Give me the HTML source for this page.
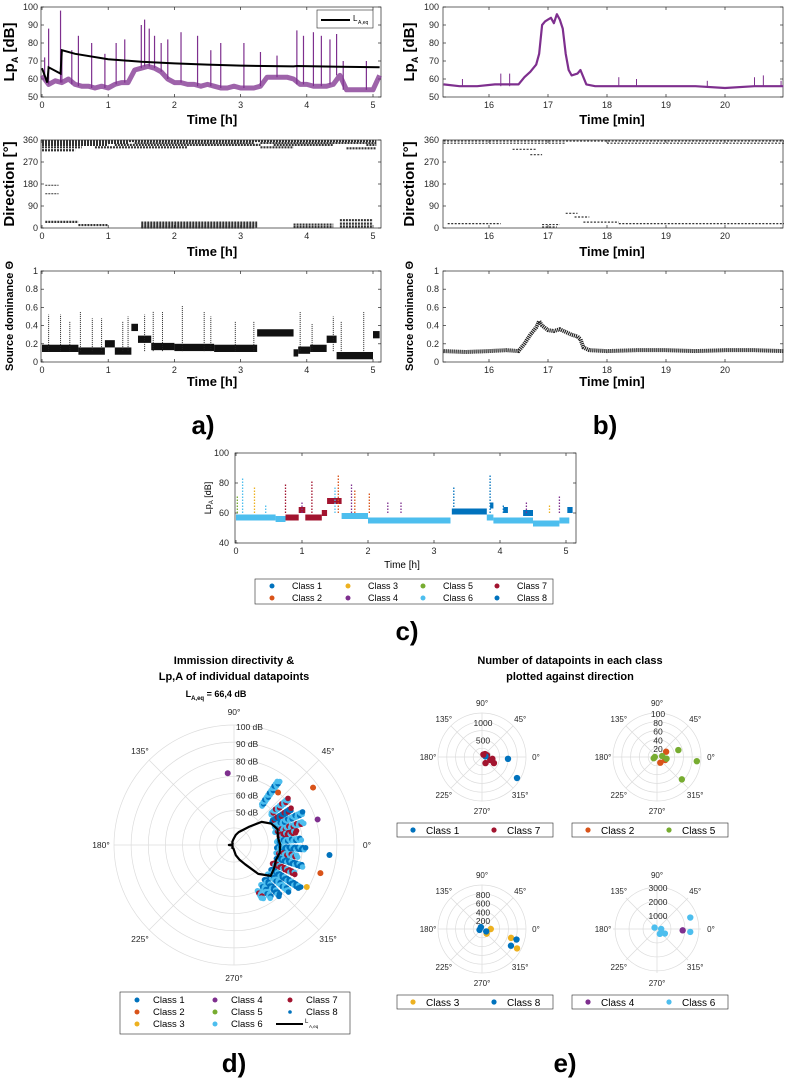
<!DOCTYPE html>
<html><head><meta charset="utf-8"><style>
html,body{margin:0;padding:0;background:#fff;}
svg{display:block;font-family:"Liberation Sans",Arial,sans-serif;}
</style></head><body>
<svg id="fig" width="789" height="1078" viewBox="0 0 789 1078" xmlns="http://www.w3.org/2000/svg"></svg>
<script>
// ---------- DATA ----------
const aLp = [62,57,59,58,60,57,56,56,55,56,55,57,58,58,65,66,67,66,64,60,58,58,57,57,56,57,56,55,55,56,55,55,55,56,61,61,61,61,60,57,57,56,56,56,57,62,54,54,54,54,54,62];
const aSpikeT = [0.04,0.1,0.28,0.3,0.45,0.55,0.75,0.95,1.12,1.25,1.5,1.55,1.62,1.7,1.8,1.9,2.1,2.35,2.55,2.7,3.05,3.3,3.55,3.85,3.95,4.1,4.22,4.35,4.45,4.55,4.9];
const aSpikeV = [72,88,98,75,76,84,80,74,80,82,90,93,88,84,80,82,86,84,76,80,80,75,73,87,84,86,84,82,85,70,70];
const aLeqT = [0,0.08,0.1,0.28,0.3,0.5,1,1.5,2,2.5,3,3.8,3.85,4.5,5.1];
const aLeqV = [66,58,66.5,63,76,74,71,69.6,68.7,68,67.4,67,67.2,66.8,66.5];
const bT = [15.23,15.5,15.8,16.1,16.3,16.5,16.6,16.7,16.8,16.85,16.9,16.95,17.0,17.05,17.1,17.15,17.2,17.25,17.3,17.35,17.4,17.5,17.55,17.65,17.8,18.0,18.5,19,19.5,20,20.5,20.99];
const bV = [57,56,56,57,57,57,61,64,68,74,90,92,93,94,91,96,93,88,74,65,62,63,65,57,56,56,56,56,56,55,56,56];
const bSpikeT = [15.55,16.2,16.35,18.2,18.5,19.7,20.5,20.65,20.95];
const bSpikeV = [60,63,63,61,60,59,61,62,59];
const dirARows = [[0,5.05,356],[0,1.3,348],[1.4,3.2,348],[3.3,5.05,348],[0,1.0,340],[1.1,3.3,340],[3.5,4.4,340],[4.9,5.05,340],[0,0.6,330],[0.8,2.2,330],[3.3,3.8,330],[4.6,5.05,326],[0,0.5,318],[0.05,0.55,25],[0.55,1.0,12],[1.5,3.25,22],[1.5,3.25,14],[1.5,3.25,6],[1.5,3.2,2],[3.8,4.4,14],[3.8,4.4,4],[4.5,5.0,18],[4.5,5.0,6],[4.5,5.0,32],[0.05,0.25,140],[0.05,0.25,175]];
const dirBRows = [[15.23,21,356],[15.23,17.3,347],[18.0,21,347],[16.4,16.8,322],[16.7,16.9,300],[17.3,17.5,60],[17.45,17.7,45],[17.6,18.2,24],[18.2,21,18],[16.9,17.15,4],[16.9,17.2,14],[15.3,16.2,18]];
const domSegT0 = [0,0.55,0.95,1.1,1.35,1.45,1.65,2.0,2.6,3.25,3.8,3.87,4.05,4.3,4.45,5.0];
const domSegT1 = [0.55,0.95,1.1,1.35,1.45,1.65,2.0,2.6,3.25,3.8,3.87,4.05,4.3,4.45,5.0,5.1];
const domSegV = [0.15,0.12,0.2,0.12,0.38,0.25,0.17,0.16,0.15,0.32,0.1,0.13,0.15,0.25,0.07,0.3];
const domSpikeT = [0.1,0.28,0.42,0.58,0.76,0.9,1.22,1.3,1.55,1.68,1.82,2.12,2.45,2.55,2.92,3.2,3.9,4.08,4.4,4.52,4.86];
const domSpikeV = [0.52,0.52,0.45,0.55,0.48,0.48,0.45,0.5,0.52,0.56,0.55,0.62,0.55,0.5,0.45,0.45,0.55,0.42,0.5,0.45,0.55];
const bDomT = [15.23,15.6,16,16.3,16.5,16.6,16.7,16.8,16.85,16.9,17.0,17.1,17.2,17.3,17.4,17.5,17.55,17.6,17.7,18,18.5,19,19.5,20,20.5,21];
const bDomV = [0.12,0.11,0.12,0.13,0.12,0.2,0.3,0.38,0.45,0.4,0.35,0.34,0.36,0.33,0.3,0.28,0.25,0.16,0.13,0.12,0.13,0.13,0.12,0.13,0.13,0.12];
const classColors = ["#0072BD","#D95319","#EDB120","#7E2F8E","#77AC30","#4DBEEE","#A2142F","#0072BD"];
const cSegT0 = [0,0.6,0.75,0.95,1.05,1.3,1.38,1.6,2.0,3.27,3.8,3.85,3.9,4.05,4.35,4.5,4.9,5.02];
const cSegT1 = [0.6,0.75,0.95,1.05,1.3,1.38,1.6,2.0,3.25,3.8,3.9,3.9,4.5,4.12,4.5,4.9,5.05,5.1];
const cSegV = [57,56,57,62,57,60,68,58,55,61,57,65,55,62,60,53,55,62];
const cSegClass = [6,6,7,7,7,7,7,6,6,8,6,8,6,8,8,6,6,8];
const cSpikeT = [0.02,0.1,0.28,0.45,0.75,1.0,1.15,1.5,1.55,1.75,1.8,2.02,2.3,2.5,3.3,3.85,4.05,4.4,4.75,4.9];
const cSpikeV = [72,83,78,66,79,68,82,78,86,80,76,74,68,68,77,85,66,68,66,72];
const cSpikeClass = [5,6,3,6,7,4,7,6,2,4,2,2,4,4,8,1,1,4,3,4];
const leqAng = [0,10,20,30,40,50,60,70,80,90,100,120,140,160,180,200,220,240,260,270,280,290,300,310,320,330,340,350,360];
const leqDb = [57,56,57,55,51,44,40,38,36,34,33,32,31,31,33,31,31,32,32,33,36,39,43,52,58,57,56,57,57];
const dRayAng = [55,40,32,25,18,12,5,-3,-10,-17,-25,-33,-40,-48,-55,-62];
const dRayMin = [58,58,56,56,55,57,55,55,55,56,55,56,56,57,58,60];
const dRayMax = [76,72,70,75,73,68,70,72,68,72,70,76,72,70,68,66];
const dRayClassA = [6,6,1,6,6,7,6,1,6,1,7,1,6,1,6,6];
const dRayClassB = [1,7,7,1,7,6,1,6,7,6,6,6,1,6,1,7];
const dOutAng = [95,36,-6,-18,-30,17,50];
const dOutDb = [72,87,86,83,79,81,70];
const dOutClass = [4,2,1,2,3,4,2];
const e1Ang = [356,329,333,20,45,300,340,10,60,350];
const e1Val = [740,1160,380,150,120,200,250,100,80,300];
const e1Class = [1,1,7,7,7,7,7,1,7,7];
const e2Ang = [18,354,318,30,340,10,200,300,350,180];
const e2Val = [51,91,76,24,20,12,8,15,22,5];
const e2Class = [5,5,5,2,2,5,5,2,5,5];
const e3Ang = [343,343,330,331,0,315,120,200,330];
const e3Val = [690,820,760,910,200,150,50,60,110];
const e3Class = [3,8,8,3,3,3,8,8,8];
const e4Ang = [19,355,357,330,150,300,0];
const e4Val = [2520,2390,1840,650,200,400,300];
const e4Class = [6,6,4,6,6,6,6];

// ---------- HELPERS ----------
const NS="http://www.w3.org/2000/svg";
const svg=document.getElementById('fig');
function mk(tag,attrs,parent){const e=document.createElementNS(NS,tag);for(const k in attrs)e.setAttribute(k,attrs[k]);(parent||svg).appendChild(e);return e;}
function txt(s,x,y,size,opts,parent){const o=Object.assign({x:x,y:y,'font-size':size,fill:'#262626'},opts||{});const t=mk('text',o,parent);t.textContent=s;return t;}
function lin(d0,d1,r0,r1){return v=>r0+(v-d0)*(r1-r0)/(d1-d0);}

function axesBox(name,x0,x1,y0,y1,xt,xs,xl,yt,ys,yl,labRight,fs){
  const g=mk('g',{});
  
  
  const r=mk('rect',{x:x0,y:y0,width:x1-x0,height:y1-y0,fill:'#fff',stroke:'#262626','stroke-width':0.7},g);
  
  
  xt.forEach((v,i)=>{const x=xs(v);
    mk('line',{x1:x,x2:x,y1:y1,y2:y1-3,stroke:'#262626','stroke-width':0.7},g);
    mk('line',{x1:x,x2:x,y1:y0,y2:y0+3,stroke:'#262626','stroke-width':0.7},g);
    const t=txt(xl[i],x,y1+11,fs,{'text-anchor':'middle'},g);
    
    });
  yt.forEach((v,i)=>{const y=ys(v);
    mk('line',{x1:x0,x2:x0+3,y1:y,y2:y,stroke:'#262626','stroke-width':0.7},g);
    mk('line',{x1:x1,x2:x1-3,y1:y,y2:y,stroke:'#262626','stroke-width':0.7},g);
    const t=txt(yl[i],labRight,y+3,fs,{'text-anchor':'end'},g);
    
    });
  return g;
}
function rotLabel(s,x,y,size,weight,name){
  const t=txt(s,x,y,size,{'text-anchor':'middle','font-weight':weight,transform:'rotate(-90 '+x+' '+y+')',fill:'#000'});
  
  
  return t;
}
function label(s,x,y,size,weight,name){
  const t=txt(s,x,y,size,{'text-anchor':'middle','font-weight':weight,fill:'#000'});
  
  
  return t;
}

// ---------- PANEL A ----------
const ax=lin(0,5,42,373), bx=lin(16,20,489,725);
const yLp=lin(50,100,97,7), yDir=lin(0,360,228,140), yDom=lin(0,1,362,271);
axesBox('panel-a-lp-axes',41,381,7,97,[0,1,2,3,4,5],ax,['0','1','2','3','4','5'],[50,60,70,80,90,100],yLp,['50','60','70','80','90','100'],38,9);
const aPts=aLp.map((v,i)=>ax(i*0.1)+','+yLp(v)).join(' ');
const aBand=mk('polyline',{points:aPts,fill:'none',stroke:'#7E2F8E','stroke-width':5,'stroke-opacity':0.75,'stroke-linejoin':'round'});


aSpikeT.forEach((t,i)=>{
  const base=aLp[Math.min(aLp.length-1,Math.round(t*10))];
  const l=mk('line',{x1:ax(t),x2:ax(t),y1:yLp(base),y2:yLp(aSpikeV[i]),stroke:'#7E2F8E','stroke-width':1.2});
  
  
});
const leq=mk('polyline',{points:aLeqT.map((t,i)=>ax(t)+','+yLp(aLeqV[i])).join(' '),fill:'none',stroke:'#000','stroke-width':2});


const lg=mk('g',{});


mk('rect',{x:317,y:10,width:56,height:18,fill:'#fff',stroke:'#262626','stroke-width':0.6},lg);
mk('line',{x1:321,x2:350,y1:20,y2:20,stroke:'#000','stroke-width':2},lg);
txt('L',353,21,8,{fill:'#000'},lg);
txt('A,eq',358,24,5,{fill:'#000'},lg);
label('Time [h]',212,124,13,'bold','panel-a-x-title');
const lpT=rotLabel('Lp',14,52,15,'bold','panel-a-y-title');
const sA=document.createElementNS(NS,'tspan');sA.setAttribute('font-size','9');sA.setAttribute('dy','4');sA.textContent='A';lpT.appendChild(sA);
const sB=document.createElementNS(NS,'tspan');sB.setAttribute('dy','-4');sB.textContent=' [dB]';lpT.appendChild(sB);

axesBox('panel-a-direction-axes',41,381,140,228,[0,1,2,3,4,5],ax,['0','1','2','3','4','5'],[0,90,180,270,360],yDir,['0','90','180','270','360'],38,9);
dirARows.forEach(r=>{
  const l=mk('line',{x1:ax(r[0]),x2:ax(r[1]),y1:yDir(r[2]),y2:yDir(r[2]),stroke:'#333','stroke-width':r[2]>300||r[2]<40?2.2:1,'stroke-dasharray':'2 1'});
  
  
});
label('Time [h]',212,256,13,'bold','panel-a-direction-x-title');
rotLabel('Direction [°]',14,184,15,'bold','panel-a-direction-y-title');

axesBox('panel-a-dominance-axes',41,381,271,362,[0,1,2,3,4,5],ax,['0','1','2','3','4','5'],[0,0.2,0.4,0.6,0.8,1],yDom,['0','0.2','0.4','0.6','0.8','1'],38,9);
domSegV.forEach((v,i)=>{
  const r=mk('rect',{x:ax(domSegT0[i]),y:yDom(v+0.04),width:ax(domSegT1[i])-ax(domSegT0[i]),height:yDom(0)-yDom(0.08),fill:'#111'});
  
  
});
domSpikeT.forEach((t,i)=>{
  const l=mk('line',{x1:ax(t),x2:ax(t),y1:yDom(0.12),y2:yDom(domSpikeV[i]),stroke:'#222','stroke-width':1,'stroke-dasharray':'1 1'});
  
  
});
label('Time [h]',212,386,13,'bold','panel-a-dominance-x-title');
rotLabel('Source dominance Θ',13,316,11,'bold','panel-a-dominance-y-title');
label('a)',203,434,26,'bold','panel-a-letter');

// ---------- PANEL B ----------
axesBox('panel-b-lp-axes',443,783,7,97,[16,17,18,19,20],bx,['16','17','18','19','20'],[50,60,70,80,90,100],yLp,['50','60','70','80','90','100'],439,9);
const bl=mk('polyline',{points:bT.map((t,i)=>bx(t)+','+yLp(bV[i])).join(' '),fill:'none',stroke:'#7E2F8E','stroke-width':2.2,'stroke-linejoin':'round'});


bSpikeT.forEach((t,i)=>{
  const l=mk('line',{x1:bx(t),x2:bx(t),y1:yLp(56),y2:yLp(bSpikeV[i]),stroke:'#7E2F8E','stroke-width':1});
  
  
});
label('Time [min]',612,124,13,'bold','panel-b-x-title');
const lpT2=rotLabel('Lp',414,52,15,'bold','panel-b-y-title');
const sA2=document.createElementNS(NS,'tspan');sA2.setAttribute('font-size','9');sA2.setAttribute('dy','4');sA2.textContent='A';lpT2.appendChild(sA2);
const sB2=document.createElementNS(NS,'tspan');sB2.setAttribute('dy','-4');sB2.textContent=' [dB]';lpT2.appendChild(sB2);

axesBox('panel-b-direction-axes',443,783,140,228,[16,17,18,19,20],bx,['16','17','18','19','20'],[0,90,180,270,360],yDir,['0','90','180','270','360'],439,9);
dirBRows.forEach(r=>{
  const l=mk('line',{x1:bx(r[0]),x2:bx(r[1]),y1:yDir(r[2]),y2:yDir(r[2]),stroke:'#333','stroke-width':1.2,'stroke-dasharray':'2 1.5'});
  
  
});
label('Time [min]',612,256,13,'bold','panel-b-direction-x-title');
rotLabel('Direction [°]',414,184,15,'bold','panel-b-direction-y-title');

axesBox('panel-b-dominance-axes',443,783,271,362,[16,17,18,19,20],bx,['16','17','18','19','20'],[0,0.2,0.4,0.6,0.8,1],yDom,['0','0.2','0.4','0.6','0.8','1'],439,9);
const bd=mk('polyline',{points:bDomT.map((t,i)=>bx(t)+','+yDom(bDomV[i])).join(' '),fill:'none',stroke:'#222','stroke-width':4,'stroke-dasharray':'1.2 0.8'});


label('Time [min]',612,386,13,'bold','panel-b-dominance-x-title');
rotLabel('Source dominance Θ',413,316,11,'bold','panel-b-dominance-y-title');
label('b)',605,434,26,'bold','panel-b-letter');

// ---------- PANEL C ----------
const cx=lin(0,5,236,566), cy=lin(40,100,543,453);
axesBox('panel-c-axes',235,576,453,543,[0,1,2,3,4,5],cx,['0','1','2','3','4','5'],[40,60,80,100],cy,['40','60','80','100'],229,9);
cSegV.forEach((v,i)=>{
  const r=mk('rect',{x:cx(cSegT0[i]),y:cy(v+2),width:Math.max(1,cx(cSegT1[i])-cx(cSegT0[i])),height:cy(0)-cy(4),fill:classColors[cSegClass[i]-1]});
  
  
});
cSpikeT.forEach((t,i)=>{
  const l=mk('line',{x1:cx(t),x2:cx(t),y1:cy(60),y2:cy(cSpikeV[i]),stroke:classColors[cSpikeClass[i]-1],'stroke-width':1.3,'stroke-dasharray':'1.5 1.5'});
  
  
});
label('Time [h]',402,568,10,'normal','panel-c-x-title');
const cyl=rotLabel('Lp',211,498,9,'normal','panel-c-y-title');
const sC=document.createElementNS(NS,'tspan');sC.setAttribute('font-size','6');sC.setAttribute('dy','2');sC.textContent='A';cyl.appendChild(sC);
const sD=document.createElementNS(NS,'tspan');sD.setAttribute('dy','-2');sD.textContent=' [dB]';cyl.appendChild(sD);
const cl=mk('g',{});


mk('rect',{x:255,y:579,width:298,height:25,fill:'#fff',stroke:'#262626','stroke-width':0.6},cl);
const cLegX=[272,348,423,497];
for(let k=0;k<8;k++){const col=Math.floor(k/2),row=k%2;
  mk('circle',{cx:cLegX[col],cy:586+row*12,r:2.5,fill:classColors[k]},cl);
  txt('Class '+(k+1),cLegX[col]+20,589+row*12,9,{fill:'#000'},cl);}
label('c)',407,640,26,'bold','panel-c-letter');

// ---------- PANEL D ----------
const dcx=234,dcy=845,dR=120;
const dr=lin(30,100,0,dR);
function pol(cx0,cy0,ang,r){const a=ang*Math.PI/180;return [cx0+r*Math.cos(a),cy0-r*Math.sin(a)];}
const dg=mk('g',{});


[40,50,60,70,80,90,100].forEach(v=>mk('circle',{cx:dcx,cy:dcy,r:dr(v),fill:'none',stroke:'#dcdcdc','stroke-width':0.7},dg));
[0,45,90,135].forEach(a=>{const p=pol(dcx,dcy,a,dR),q=pol(dcx,dcy,a+180,dR);mk('line',{x1:p[0],y1:p[1],x2:q[0],y2:q[1],stroke:'#dcdcdc','stroke-width':0.7},dg);});
[0,45,90,135,180,225,270,315].forEach(a=>{const p=pol(dcx,dcy,a,dR+13);txt(a+'°',p[0],p[1]+3,8.5,{'text-anchor':'middle'},dg);});
[50,60,70,80,90,100].forEach(v=>txt(v+' dB',dcx+2,dcy-dr(v)+5,8.5,{},dg));
dRayAng.forEach((a,i)=>{
  for(let v=dRayMin[i],k=0;v<=dRayMax[i];v+=0.8,k++){
    const c=(k%3===2)?dRayClassB[i]:dRayClassA[i];
    const p=pol(dcx,dcy,a+((k%2)?0.8:-0.8),dr(v));
    const d=mk('circle',{cx:p[0],cy:p[1],r:2.8,fill:classColors[c-1]});
    
    
  }
});
dOutAng.forEach((a,i)=>{const p=pol(dcx,dcy,a,dr(dOutDb[i]));
  const d=mk('circle',{cx:p[0],cy:p[1],r:3,fill:classColors[dOutClass[i]-1]});
  
  });
const lq=mk('polyline',{points:leqAng.map((a,i)=>pol(dcx,dcy,a,dr(leqDb[i])).join(',')).join(' '),fill:'none',stroke:'#000','stroke-width':2.2,'stroke-linejoin':'round'});


label('Immission directivity &',234,664,11,'bold','panel-d-title-line1');
label('Lp,A of individual datapoints',234,680,11,'bold','panel-d-title-line2');
const lt=label('L',216,697,9,'bold','panel-d-laeq-value');
const s1=document.createElementNS(NS,'tspan');s1.setAttribute('font-size','6');s1.setAttribute('dy','3');s1.textContent='A,eq';lt.appendChild(s1);
const s2=document.createElementNS(NS,'tspan');s2.setAttribute('dy','-3');s2.textContent=' = 66,4 dB';lt.appendChild(s2);
const dl=mk('g',{});


mk('rect',{x:120,y:992,width:230,height:42,fill:'#fff',stroke:'#262626','stroke-width':0.6},dl);
const dLegM=[137,215,290];
for(let k=0;k<8;k++){const col=Math.floor(k/3),row=k%3;
  mk('circle',{cx:dLegM[col],cy:1000+row*12,r:k===7?1.8:2.5,fill:classColors[k]},dl);
  txt('Class '+(k+1),dLegM[col]+(col===2?16:16),1003+row*12,9.5,{fill:'#000'},dl);}
mk('line',{x1:276,x2:303,y1:1024,y2:1024,stroke:'#000','stroke-width':2},dl);
txt('L',305,1023,6,{fill:'#000'},dl);txt('A,eq',309,1028,4.5,{fill:'#000'},dl);
label('d)',234,1072,26,'bold','panel-d-letter');

// ---------- PANEL E ----------
label('Number of datapoints in each class',570,664,11,'bold','panel-e-title-line1');
label('plotted against direction',570,680,11,'bold','panel-e-title-line2');
function smallPolar(name,cx0,cy0,maxV,rings,ringLabels,angs,vals,cls,legA,legB,legX,legY){
  const R=44, sc=lin(0,maxV,0,R);
  const g=mk('g',{});
  
  
  rings.forEach(v=>mk('circle',{cx:cx0,cy:cy0,r:sc(v),fill:'none',stroke:'#dcdcdc','stroke-width':0.7},g));
  [0,45,90,135].forEach(a=>{const p=pol(cx0,cy0,a,R),q=pol(cx0,cy0,a+180,R);mk('line',{x1:p[0],y1:p[1],x2:q[0],y2:q[1],stroke:'#dcdcdc','stroke-width':0.7},g);});
  [0,45,90,135,180,225,270,315].forEach(a=>{const p=pol(cx0,cy0,a,R+10);txt(a+'°',p[0],p[1]+3,8,{'text-anchor':'middle'},g);});
  ringLabels.forEach(v=>txt(String(v),cx0+1,cy0-sc(v)+4,8.5,{'text-anchor':'middle'},g));
  angs.forEach((a,i)=>{const p=pol(cx0,cy0,a,sc(vals[i]));
    const d=mk('circle',{cx:p[0],cy:p[1],r:3.2,fill:classColors[cls[i]-1]});
    
    });
  const lg2=mk('g',{});
  
  
  mk('rect',{x:legX,y:legY,width:156,height:14,fill:'#fff',stroke:'#262626','stroke-width':0.6},lg2);
  mk('circle',{cx:legX+16,cy:legY+7,r:2.6,fill:classColors[legA-1]},lg2);
  txt('Class '+legA,legX+29,legY+11,10,{fill:'#000'},lg2);
  mk('circle',{cx:legX+97,cy:legY+7,r:2.6,fill:classColors[legB-1]},lg2);
  txt('Class '+legB,legX+110,legY+11,10,{fill:'#000'},lg2);
}
smallPolar('panel-e-class-1-7',482,757,1250,[250,500,750,1000,1250],[500,1000],e1Ang,e1Val,e1Class,1,7,397,823);
smallPolar('panel-e-class-2-5',657,757,100,[20,40,60,80,100],[20,40,60,80,100],e2Ang,e2Val,e2Class,2,5,572,823);
smallPolar('panel-e-class-3-8',482,929,1000,[200,400,600,800,1000],[200,400,600,800],e3Ang,e3Val,e3Class,3,8,397,995);
smallPolar('panel-e-class-4-6',657,929,3150,[1000,2000,3000],[1000,2000,3000],e4Ang,e4Val,e4Class,4,6,572,995);
label('e)',565,1072,26,'bold','panel-e-letter');
</script>
</body></html>
